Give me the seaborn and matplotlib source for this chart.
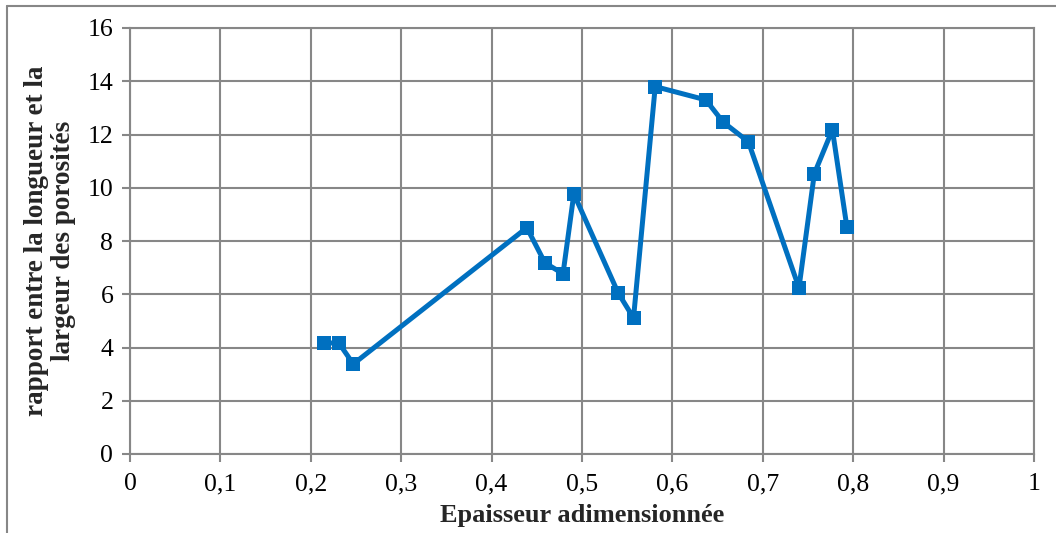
import matplotlib
matplotlib.use("Agg")
import matplotlib.pyplot as plt
import seaborn as sns
import pandas as pd
from matplotlib.lines import Line2D

# DONNEES
epaisseur = [0.215, 0.231, 0.247, 0.439, 0.459, 0.479, 0.491, 0.540, 0.557,
             0.581, 0.637, 0.656, 0.684, 0.740, 0.757, 0.777, 0.793]
rapport = [4.17, 4.17, 3.38, 8.5, 7.18, 6.77, 9.77, 6.05, 5.11,
           13.8, 13.3, 12.47, 11.73, 6.24, 10.53, 12.18, 8.53]

x_ticks = [0, 0.1, 0.2, 0.3, 0.4, 0.5, 0.6, 0.7, 0.8, 0.9, 1]
x_labels = ["0", "0,1", "0,2", "0,3", "0,4", "0,5", "0,6", "0,7", "0,8", "0,9", "1"]
y_ticks = [0, 2, 4, 6, 8, 10, 12, 14, 16]

df = pd.DataFrame({"x": epaisseur, "y": rapport})

sns.set_style("white")
plt.rcParams["font.family"] = ["Liberation Serif", "DejaVu Serif"]

gris = "#878787"
bleu = "#0070C0"

fig = plt.figure(figsize=(10.56, 5.33), dpi=100)
ax = fig.add_axes([130 / 1056, 79 / 533, 904 / 1056, 426 / 533])

sns.lineplot(data=df, x="x", y="y", sort=False, ax=ax, color=bleu,
             linewidth=3.6, marker="s", markersize=10.5, markeredgewidth=0,
             zorder=3)

ax.set_xlim(0, 1)
ax.set_ylim(0, 16)
ax.set_xticks(x_ticks)
ax.set_xticklabels(x_labels)
ax.set_yticks(y_ticks)
ax.grid(True, color=gris, linewidth=1.5)
for s in ax.spines.values():
    s.set_color(gris)
    s.set_linewidth(1.5)
ax.tick_params(axis="both", colors=gris, length=6, width=1.5,
               labelsize=18.5, labelcolor="black", direction="out",
               bottom=True, left=True)
ax.tick_params(axis="x", pad=8)
ax.tick_params(axis="y", pad=6)

ax.set_xlabel("Epaisseur adimensionnée", fontsize=19, fontweight="bold",
              labelpad=6)
ax.set_ylabel("rapport entre la longueur et la\nlargeur des porosités",
              fontsize=19.5, fontweight="bold", labelpad=8, linespacing=1.15)

# CADRE EXTERIEUR
fig.add_artist(Line2D([7 / 1056, 7 / 1056], [0, 1 - 6 / 533],
                      transform=fig.transFigure, color=gris, linewidth=1.5))
fig.add_artist(Line2D([7 / 1056, 1], [1 - 6 / 533, 1 - 6 / 533],
                      transform=fig.transFigure, color=gris, linewidth=1.5))

fig.savefig("out.png", dpi=100)
